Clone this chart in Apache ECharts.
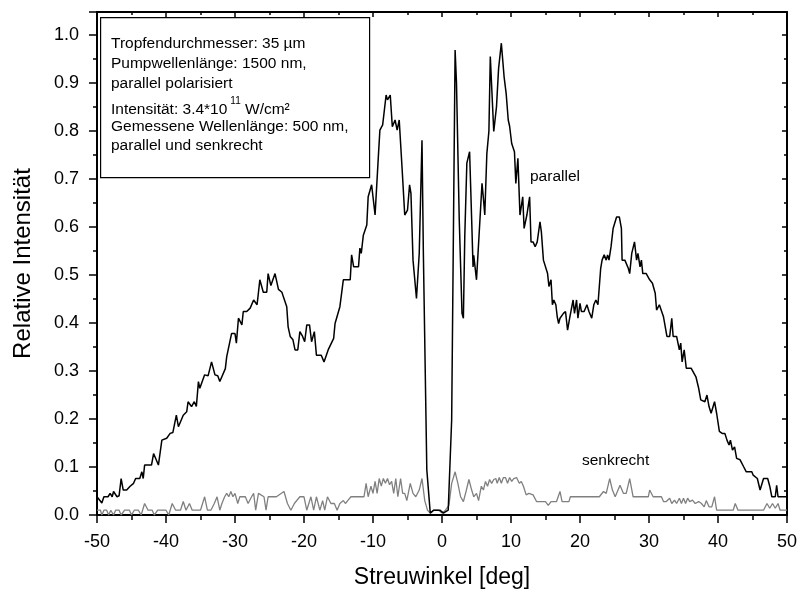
<!DOCTYPE html>
<html>
<head>
<meta charset="utf-8">
<script src="https://cdn.jsdelivr.net/npm/echarts@6/dist/echarts.min.js"></script>
<style>
  html, body { margin: 0; padding: 0; background: #fff; }
  #chart { width: 798px; height: 591px; }
</style>
</head>
<body>
<div id="chart"></div>
<script>
// Scattering angle (deg) and relative intensity, parallel polarisation
const parallelAngle = [
  -50.0, -49.3, -49.0, -48.4, -48.1, -47.8, -47.6, -47.1, -46.8, -46.5, -46.2, -45.7, -45.2, -44.7, -44.4, -43.8,
  -43.5, -43.3, -43.1, -42.1, -41.8, -41.1, -40.6, -39.9, -39.4, -39.0, -38.5, -38.2, -37.5, -37.0, -36.8, -36.3,
  -35.9, -35.6, -35.3, -35.1, -34.4, -33.9, -33.4, -32.9, -32.5, -32.2, -31.4, -31.2, -30.5, -30.0, -29.8, -29.5,
  -29.0, -28.8, -28.3, -27.8, -27.3, -26.8, -26.4, -25.9, -25.4, -25.2, -24.8, -24.2, -23.7, -23.2, -23.0, -22.5,
  -22.3, -22.0, -21.6, -21.3, -20.9, -20.6, -20.2, -19.9, -19.6, -19.2, -18.9, -18.5, -18.2, -17.5, -17.1, -16.5,
  -15.7, -15.5, -14.8, -14.3, -13.8, -13.3, -13.1, -12.8, -12.1, -11.9, -11.7, -11.4, -10.9, -10.7, -10.2, -9.7,
  -9.2, -9.0, -8.6, -8.4, -8.1, -7.9, -7.5, -7.2, -6.8, -6.5, -6.2, -5.8, -5.4, -5.0, -4.7, -4.5,
  -4.2, -4.0, -3.7, -3.3, -2.9, -2.7, -2.2, -1.7, -1.2, -0.3, 0.2, 0.9, 1.4, 1.9, 2.1, 2.5,
  2.9, 3.1, 3.3, 3.6, 4.0, 4.3, 4.5, 4.6, 5.0, 5.5, 5.8, 6.0, 6.2, 6.5, 6.8, 7.0,
  7.5, 7.9, 8.2, 8.6, 9.0, 9.3, 9.6, 9.8, 10.1, 10.5, 10.7, 11.0, 11.3, 11.7, 11.9, 12.3,
  12.7, 12.9, 13.2, 13.5, 13.8, 14.2, 14.4, 14.7, 14.9, 15.3, 15.5, 15.8, 16.0, 16.2, 16.5, 16.7,
  16.9, 17.1, 17.6, 17.9, 18.2, 18.5, 19.0, 19.2, 19.5, 19.7, 20.0, 20.2, 20.6, 21.0, 21.3, 21.7,
  22.0, 22.3, 22.6, 23.0, 23.2, 23.5, 23.8, 24.0, 24.2, 24.5, 24.8, 25.0, 25.3, 25.7, 26.0, 26.1,
  26.5, 27.0, 27.2, 27.5, 27.9, 28.2, 28.4, 28.7, 28.9, 29.1, 29.6, 30.1, 30.5, 30.9, 31.1, 31.5,
  32.1, 32.6, 33.0, 33.3, 33.5, 34.0, 34.4, 34.6, 34.8, 35.1, 35.4, 36.1, 36.8, 37.2, 37.5, 38.1,
  38.4, 38.7, 39.0, 39.5, 39.8, 40.2, 40.6, 41.0, 41.3, 41.6, 41.8, 42.1, 42.4, 42.7, 43.2, 43.7,
  44.1, 44.9, 45.1, 45.7, 46.1, 46.6, 47.2, 47.5, 47.8, 48.3, 48.5, 48.7, 50.0
];
const parallelValue = [
  0.038, 0.025, 0.038, 0.038, 0.045, 0.038, 0.049, 0.038, 0.040, 0.076, 0.052, 0.052, 0.060, 0.066, 0.076, 0.076,
  0.090, 0.076, 0.104, 0.104, 0.128, 0.104, 0.156, 0.160, 0.170, 0.172, 0.208, 0.184, 0.208, 0.215, 0.236, 0.226,
  0.236, 0.226, 0.278, 0.264, 0.292, 0.290, 0.319, 0.292, 0.290, 0.278, 0.305, 0.330, 0.378, 0.378, 0.358, 0.410,
  0.396, 0.424, 0.424, 0.431, 0.448, 0.438, 0.490, 0.464, 0.464, 0.503, 0.478, 0.503, 0.470, 0.464, 0.455, 0.434,
  0.392, 0.372, 0.365, 0.344, 0.344, 0.382, 0.372, 0.361, 0.396, 0.396, 0.361, 0.382, 0.333, 0.333, 0.319, 0.344,
  0.368, 0.399, 0.434, 0.490, 0.490, 0.490, 0.542, 0.517, 0.517, 0.556, 0.545, 0.583, 0.604, 0.663, 0.688, 0.625,
  0.753, 0.802, 0.813, 0.813, 0.875, 0.865, 0.875, 0.809, 0.823, 0.802, 0.823, 0.726, 0.625, 0.635, 0.688, 0.670,
  0.531, 0.528, 0.451, 0.545, 0.781, 0.545, 0.094, 0.004, 0.010, 0.010, 0.004, 0.010, 0.198, 0.969, 0.900, 0.615,
  0.420, 0.410, 0.580, 0.733, 0.757, 0.615, 0.517, 0.541, 0.490, 0.615, 0.691, 0.660, 0.625, 0.753, 0.800, 0.955,
  0.799, 0.851, 0.930, 0.983, 0.913, 0.878, 0.823, 0.810, 0.774, 0.757, 0.691, 0.743, 0.625, 0.663, 0.597, 0.625,
  0.663, 0.569, 0.569, 0.559, 0.569, 0.611, 0.590, 0.531, 0.531, 0.503, 0.476, 0.490, 0.438, 0.448, 0.438, 0.413,
  0.399, 0.410, 0.420, 0.424, 0.385, 0.410, 0.448, 0.420, 0.448, 0.410, 0.441, 0.424, 0.424, 0.438, 0.424, 0.410,
  0.438, 0.448, 0.438, 0.514, 0.531, 0.542, 0.531, 0.542, 0.531, 0.559, 0.597, 0.597, 0.621, 0.621, 0.597, 0.531,
  0.531, 0.514, 0.503, 0.545, 0.569, 0.531, 0.545, 0.517, 0.531, 0.503, 0.503, 0.490, 0.483, 0.462, 0.427, 0.438,
  0.413, 0.372, 0.372, 0.410, 0.372, 0.372, 0.344, 0.358, 0.319, 0.344, 0.306, 0.306, 0.288, 0.264, 0.240, 0.236,
  0.250, 0.226, 0.212, 0.236, 0.212, 0.174, 0.170, 0.170, 0.156, 0.146, 0.156, 0.135, 0.142, 0.118, 0.115, 0.101,
  0.090, 0.090, 0.083, 0.076, 0.052, 0.076, 0.076, 0.060, 0.038, 0.038, 0.062, 0.038, 0.038
];

// Perpendicular polarisation
const senkrechtAngle = [
  -50.0, -49.5, -49.3, -49.0, -48.6, -48.3, -48.0, -47.6, -47.3, -46.8, -46.5, -46.0, -45.3, -45.0, -44.6, -44.0,
  -43.6, -43.1, -42.6, -42.0, -41.7, -41.2, -40.0, -39.6, -39.1, -38.6, -37.9, -37.5, -37.1, -36.6, -36.2, -35.0,
  -34.4, -34.0, -33.5, -33.0, -32.6, -32.2, -31.9, -31.5, -31.2, -30.9, -30.6, -30.3, -30.0, -29.6, -29.3, -28.5,
  -28.1, -27.6, -27.3, -27.0, -26.6, -25.8, -25.5, -25.2, -24.0, -22.9, -22.4, -21.9, -21.4, -20.6, -20.0, -19.6,
  -19.0, -18.6, -18.2, -17.7, -17.3, -17.0, -16.6, -16.1, -15.6, -15.2, -14.8, -14.3, -14.0, -13.6, -13.2, -11.3,
  -11.0, -10.7, -10.3, -10.0, -9.7, -9.4, -9.1, -8.8, -8.5, -8.2, -7.9, -7.6, -7.3, -7.0, -6.7, -6.4,
  -6.0, -5.7, -5.4, -5.1, -4.6, -4.2, -3.8, -3.3, -2.9, -2.5, -2.1, -1.7, -1.2, -0.5, 0.0, 0.5,
  1.0, 1.4, 1.9, 2.3, 2.7, 3.1, 3.5, 3.9, 4.3, 4.6, 5.0, 5.3, 5.7, 6.0, 6.3, 6.6,
  6.9, 7.2, 7.5, 7.8, 8.0, 8.3, 8.6, 8.9, 9.2, 9.5, 9.8, 10.1, 10.4, 10.8, 11.2, 11.5,
  11.8, 12.2, 12.6, 13.2, 13.7, 14.4, 15.0, 15.4, 15.8, 16.6, 17.1, 17.4, 18.4, 18.6, 22.8, 23.4,
  23.8, 24.3, 24.7, 25.1, 25.8, 26.3, 26.7, 27.2, 27.7, 29.9, 30.1, 30.6, 31.8, 32.1, 32.5, 33.0,
  33.3, 33.7, 34.0, 34.4, 34.7, 35.0, 35.3, 35.6, 35.9, 36.3, 36.7, 37.2, 37.6, 38.0, 38.3, 38.7,
  39.1, 39.5, 39.8, 42.2, 42.5, 42.9, 46.6, 47.1, 47.5, 47.9, 48.3, 48.7, 49.0, 50.0
];
const senkrechtValue = [
  0.010, 0.010, 0.000, 0.010, 0.010, 0.000, 0.010, 0.000, 0.010, 0.010, 0.000, 0.010, 0.010, 0.000, 0.010, 0.010,
  0.000, 0.024, 0.010, 0.010, 0.000, 0.010, 0.010, 0.000, 0.024, 0.010, 0.010, 0.028, 0.010, 0.024, 0.010, 0.010,
  0.038, 0.010, 0.010, 0.024, 0.038, 0.010, 0.024, 0.038, 0.045, 0.038, 0.049, 0.038, 0.045, 0.024, 0.038, 0.038,
  0.024, 0.038, 0.045, 0.010, 0.045, 0.038, 0.010, 0.038, 0.038, 0.049, 0.024, 0.010, 0.024, 0.038, 0.038, 0.010,
  0.038, 0.010, 0.038, 0.010, 0.030, 0.010, 0.038, 0.024, 0.024, 0.010, 0.024, 0.030, 0.024, 0.031, 0.038, 0.038,
  0.066, 0.038, 0.060, 0.045, 0.070, 0.045, 0.076, 0.060, 0.076, 0.066, 0.076, 0.063, 0.070, 0.045, 0.076, 0.038,
  0.076, 0.045, 0.045, 0.030, 0.066, 0.045, 0.038, 0.052, 0.076, 0.030, 0.010, 0.004, 0.010, 0.010, 0.004, 0.010,
  0.020, 0.066, 0.090, 0.066, 0.038, 0.028, 0.050, 0.074, 0.052, 0.038, 0.045, 0.030, 0.060, 0.052, 0.070, 0.060,
  0.074, 0.066, 0.074, 0.076, 0.066, 0.078, 0.066, 0.078, 0.078, 0.066, 0.078, 0.070, 0.076, 0.078, 0.066, 0.070,
  0.060, 0.042, 0.045, 0.042, 0.028, 0.028, 0.028, 0.020, 0.028, 0.028, 0.049, 0.028, 0.028, 0.038, 0.038, 0.049,
  0.045, 0.076, 0.052, 0.038, 0.062, 0.045, 0.045, 0.076, 0.038, 0.038, 0.052, 0.038, 0.038, 0.028, 0.028, 0.035,
  0.024, 0.031, 0.024, 0.035, 0.024, 0.035, 0.024, 0.035, 0.028, 0.031, 0.024, 0.028, 0.024, 0.017, 0.030, 0.017,
  0.017, 0.038, 0.010, 0.010, 0.024, 0.010, 0.010, 0.024, 0.014, 0.024, 0.014, 0.024, 0.010, 0.010
];

// Axis tick labels
const xTickLabels = ['-50', '-40', '-30', '-20', '-10', '0', '10', '20', '30', '40', '50'];
const yTickLabels = ['0.0', '0.1', '0.2', '0.3', '0.4', '0.5', '0.6', '0.7', '0.8', '0.9', '1.0'];

// Text of the info box
const infoLines = [
  'Tropfendurchmesser: 35 µm',
  'Pumpwellenlänge: 1500 nm,',
  'parallel polarisiert',
  null, // intensity line with superscript, built below
  'Gemessene Wellenlänge: 500 nm,',
  'parallel und senkrecht'
];

const FONT = '"Liberation Sans", Arial, Helvetica, sans-serif';

const chart = echarts.init(document.getElementById('chart'), null, { renderer: 'canvas' });

const pairs = (xs, ys) => xs.map((x, i) => [x, ys[i]]);

const xLabel = v => {
  const idx = Math.round((v + 50) / 10);
  return Math.abs(v - (-50 + idx * 10)) < 1e-6 ? xTickLabels[idx] : '';
};
const yLabel = v => {
  const idx = Math.round(v * 10);
  return Math.abs(v - idx / 10) < 1e-6 && idx <= 10 ? yTickLabels[idx] : '';
};

const axisLine = { show: true, onZero: false, lineStyle: { color: '#000', width: 2 } };

const lineTop = [45, 65, 85, 108, 128, 147];
const infoGraphics = [];
infoLines.forEach((t, i) => {
  if (t === null) {
    infoGraphics.push({
      type: 'text', left: 111, top: lineTop[i] - 12,
      style: {
        text: '{a|Intensität: 3.4*10}{s|11}{a| W/cm²}',
        rich: {
          a: { fontFamily: FONT, fontSize: 15.5, fill: '#000', verticalAlign: 'bottom', lineHeight: 22 },
          s: { fontFamily: FONT, fontSize: 10, fill: '#000', verticalAlign: 'top', lineHeight: 22, padding: [0, 0, 8, 3] }
        }
      }
    });
  } else {
    infoGraphics.push({
      type: 'text', left: 111, top: lineTop[i] - 9,
      style: { text: t, fontFamily: FONT, fontSize: 15.5, fill: '#000' }
    });
  }
});

chart.setOption({
  animation: false,
  backgroundColor: '#fff',
  grid: { left: 97, right: 11, top: 12, bottom: 76, containLabel: false, outerBoundsMode: 'none' },
  xAxis: [
    {
      type: 'value', min: -50, max: 50, interval: 10, position: 'bottom',
      name: 'Streuwinkel [deg]', nameLocation: 'middle', nameGap: 51,
      nameTextStyle: { fontFamily: FONT, fontSize: 23, color: '#000' },
      axisLine,
      axisTick: { show: true, inside: false, length: 8, lineStyle: { color: '#000', width: 1.5 } },
      minorTick: { show: true, splitNumber: 2, length: 5, lineStyle: { color: '#000', width: 1.5 } },
      axisLabel: { formatter: xLabel, fontFamily: FONT, fontSize: 18, color: '#000', margin: 18 },
      splitLine: { show: false }
    },
    {
      type: 'value', min: -50, max: 50, interval: 10, position: 'top',
      axisLine,
      axisTick: { show: true, inside: true, length: 5, lineStyle: { color: '#000', width: 1.5 } },
      minorTick: { show: true, splitNumber: 2, length: 3, lineStyle: { color: '#000', width: 1.5 } },
      axisLabel: { show: false },
      splitLine: { show: false }
    }
  ],
  yAxis: [
    {
      type: 'value', min: 0, max: 1.048, interval: 0.1, position: 'left',
      name: 'Relative Intensität', nameLocation: 'middle', nameGap: 62, nameRotate: 90,
      nameTextStyle: { fontFamily: FONT, fontSize: 24, color: '#000' },
      axisLine,
      axisTick: { show: true, inside: false, length: 8, lineStyle: { color: '#000', width: 1.5 } },
      minorTick: { show: true, splitNumber: 2, length: 4, lineStyle: { color: '#000', width: 1.5 } },
      axisLabel: { formatter: yLabel, showMaxLabel: false, fontFamily: FONT, fontSize: 18, color: '#000', margin: 18 },
      splitLine: { show: false }
    },
    {
      type: 'value', min: 0, max: 1.048, interval: 0.1, position: 'right',
      axisLine,
      axisTick: { show: true, inside: true, length: 5, lineStyle: { color: '#000', width: 1.5 } },
      minorTick: { show: true, splitNumber: 2, length: 3, lineStyle: { color: '#000', width: 1.5 } },
      axisLabel: { show: false },
      splitLine: { show: false }
    }
  ],
  series: [
    {
      name: 'senkrecht', type: 'line', xAxisIndex: 0, yAxisIndex: 0,
      data: pairs(senkrechtAngle, senkrechtValue),
      showSymbol: false, symbol: 'none', silent: true,
      lineStyle: { color: '#808080', width: 1.3 }, z: 2
    },
    {
      name: 'parallel', type: 'line', xAxisIndex: 0, yAxisIndex: 0,
      data: pairs(parallelAngle, parallelValue),
      showSymbol: false, symbol: 'none', silent: true,
      lineStyle: { color: '#000', width: 1.5 }, z: 3
    }
  ],
  graphic: [
    {
      type: 'rect', left: 100, top: 17, z: 10,
      shape: { width: 269, height: 160 },
      style: { fill: '#fff', stroke: '#000', lineWidth: 1.2 }
    },
    ...infoGraphics.map(g => Object.assign({ z: 11 }, g)),
    {
      type: 'text', left: 530, top: 169, z: 11,
      style: { text: 'parallel', fontFamily: FONT, fontSize: 15.5, fill: '#000' }
    },
    {
      type: 'text', left: 582, top: 453, z: 11,
      style: { text: 'senkrecht', fontFamily: FONT, fontSize: 15.5, fill: '#000' }
    }
  ]
});
</script>
</body>
</html>
